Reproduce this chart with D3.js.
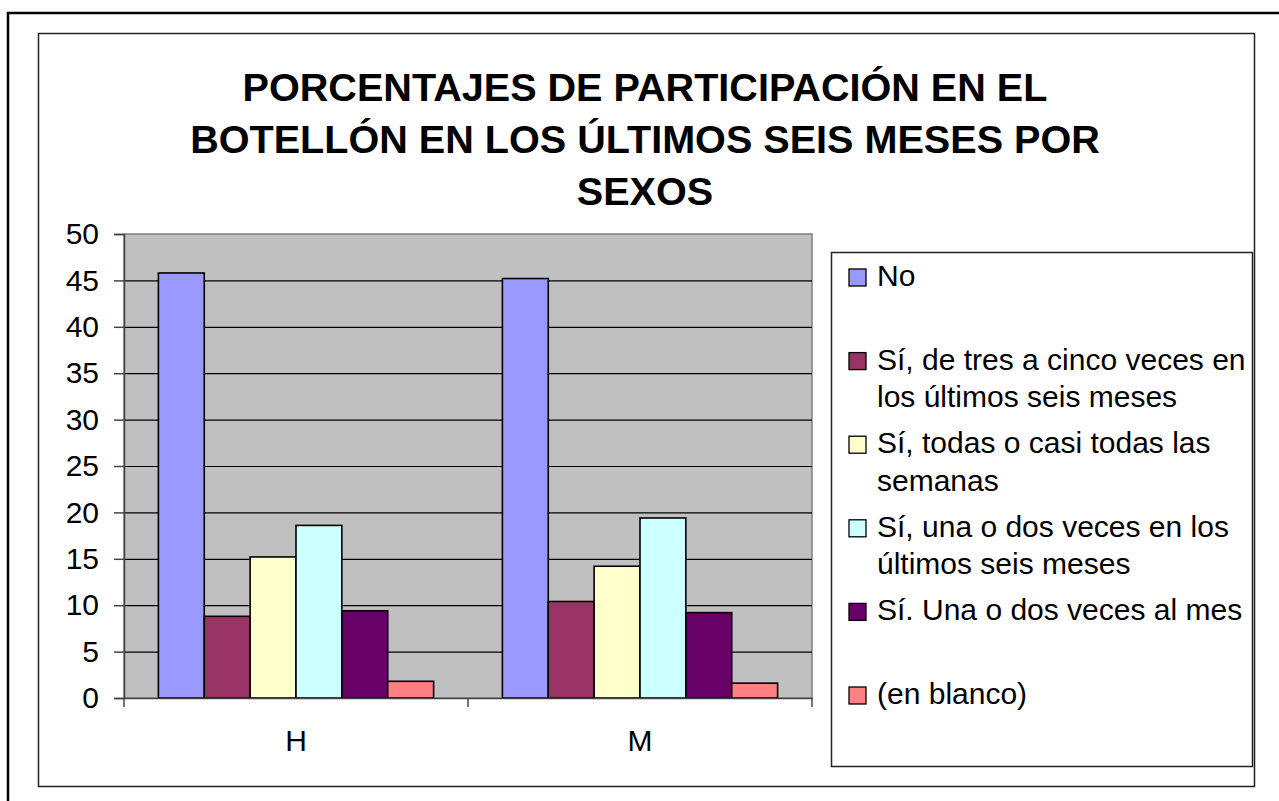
<!DOCTYPE html>
<html>
<head>
<meta charset="utf-8">
<script src="https://cdn.jsdelivr.net/npm/d3@7"></script>
<style>
  body { margin: 0; background: #fff; }
  svg { display: block; font-family: Arial, "Liberation Sans", sans-serif; }
</style>
</head>
<body>
<svg class="barchart" width="1279" height="801"></svg>
<script>
// data
let sexes = ["H", "M"];
let seriesNames = [
  "No",
  "Sí, de tres a cinco veces en los últimos seis meses",
  "Sí, todas o casi todas las semanas",
  "Sí, una o dos veces en los últimos seis meses",
  "Sí. Una o dos veces al mes",
  "(en blanco)"
];
let valuesH = [45.8, 8.8, 15.2, 18.6, 9.4, 1.8];
let valuesM = [45.2, 10.4, 14.2, 19.4, 9.2, 1.6];
let seriesColors = ["#9999FF", "#993366", "#FFFFCC", "#CCFFFF", "#660066", "#FF8080"];
let yTicks = [0, 5, 10, 15, 20, 25, 30, 35, 40, 45, 50];
let titleLines = [
  "PORCENTAJES DE PARTICIPACIÓN EN EL",
  "BOTELLÓN EN LOS ÚLTIMOS SEIS MESES POR",
  "SEXOS"
];

let svg = d3.select("body").select(".barchart");

// outer frame (only top/left visible) and chart area
svg.append("rect")
  .attr("x", 8).attr("y", 13)
  .attr("width", 1300).attr("height", 820)
  .attr("fill", "#fff")
  .attr("stroke", "#000")
  .attr("stroke-width", 2.5);

svg.append("rect")
  .attr("x", 38.5).attr("y", 33.5)
  .attr("width", 1216).attr("height", 753)
  .attr("fill", "#fff")
  .attr("stroke", "#222")
  .attr("stroke-width", 1.5);

// title
let title = svg.append("text")
  .attr("class", "title")
  .attr("text-anchor", "middle")
  .style("font-size", "39.6px")
  .style("font-weight", "bold");
title.selectAll("tspan")
  .data(titleLines)
  .enter().append("tspan")
  .attr("x", 645)
  .attr("y", (d, i) => 101 + i * 52)
  .text(d => d);

let plot = {left: 124, right: 812, top: 234, bottom: 698};

let yScale = d3.scaleLinear()
  .domain([0, 50])
  .range([plot.bottom, plot.top]);

let xScale = d3.scaleBand()
  .domain(sexes)
  .range([plot.left, plot.right])
  .paddingInner(0)
  .paddingOuter(0);

// gap width 150% -> 0.75 bar on each side
let seriesScale = d3.scaleBand()
  .domain(d3.range(seriesNames.length))
  .range([0, xScale.bandwidth()])
  .paddingInner(0)
  .paddingOuter(0.75);

// plot background
svg.append("rect")
  .attr("x", plot.left).attr("y", plot.top)
  .attr("width", plot.right - plot.left)
  .attr("height", plot.bottom - plot.top)
  .attr("fill", "#C0C0C0")
  .attr("stroke", "#808080")
  .attr("stroke-width", 1.5);

// gridlines
let gridlines = d3.axisLeft(yScale)
  .tickValues(yTicks.slice(1, -1))
  .tickFormat("")
  .tickSize(-(plot.right - plot.left));
let grid = svg.append("g")
  .attr("class", "grid")
  .attr("transform", translate(plot.left, 0))
  .call(gridlines);
grid.select(".domain").remove();
grid.selectAll("line").attr("stroke", "#000").attr("stroke-width", 1.2);

// bars
let rows = sexes.map((s, i) => ({sex: s, values: i === 0 ? valuesH : valuesM}));
let groups = svg.selectAll(".group")
  .data(rows)
  .enter().append("g")
  .attr("class", "group")
  .attr("transform", d => translate(xScale(d.sex), 0));

groups.selectAll(".bar")
  .data(d => d.values.map((v, j) => ({v: v, j: j})))
  .enter().append("rect")
  .attr("class", "bar")
  .attr("x", d => seriesScale(d.j))
  .attr("width", seriesScale.bandwidth())
  .attr("y", d => yScale(d.v))
  .attr("height", d => plot.bottom - yScale(d.v))
  .attr("fill", d => seriesColors[d.j])
  .attr("stroke", "#000")
  .attr("stroke-width", 1.6);

// y axis
let yAxis = d3.axisLeft(yScale)
  .tickValues(yTicks)
  .tickSize(10)
  .tickPadding(15);
let yGroup = svg.append("g")
  .attr("id", "y-axis")
  .attr("transform", translate(plot.left, 0))
  .call(yAxis);
yGroup.select(".domain").attr("stroke", "#444").attr("stroke-width", 1.5);
yGroup.selectAll("line").attr("stroke", "#444").attr("stroke-width", 1.5);
yGroup.selectAll("text")
  .attr("fill", "#000")
  .style("font-size", "30px")
  .style("font-family", "Arial, 'Liberation Sans', sans-serif");

// x axis (ticks on category boundaries)
let xAxis = d3.axisBottom(xScale).tickSize(0).tickPadding(32);
let xGroup = svg.append("g")
  .attr("id", "x-axis")
  .attr("transform", translate(0, plot.bottom))
  .call(xAxis);
xGroup.select(".domain").attr("stroke", "#444").attr("stroke-width", 1.5);
xGroup.selectAll("text")
  .attr("fill", "#000")
  .style("font-size", "30px")
  .style("font-family", "Arial, 'Liberation Sans', sans-serif");
xGroup.selectAll(".sep")
  .data([plot.left, xScale("M"), plot.right])
  .enter().append("line")
  .attr("class", "sep")
  .attr("x1", d => d).attr("x2", d => d)
  .attr("y1", 0).attr("y2", 9)
  .attr("stroke", "#444")
  .attr("stroke-width", 1.5);

// legend
let legend = svg.append("g").attr("class", "legend");
legend.append("rect")
  .attr("x", 831.5).attr("y", 252.5)
  .attr("width", 421).attr("height", 514)
  .attr("fill", "#fff")
  .attr("stroke", "#222")
  .attr("stroke-width", 1.5);

let items = legend.selectAll(".item")
  .data(seriesNames)
  .enter().append("g")
  .attr("class", "item")
  .attr("transform", (d, i) => translate(0, 286 + i * 83.6));

items.append("rect")
  .attr("x", 849).attr("y", -17)
  .attr("width", 17).attr("height", 17)
  .attr("fill", (d, i) => seriesColors[i])
  .attr("stroke", "#000")
  .attr("stroke-width", 1.3);

items.append("text")
  .attr("x", 877)
  .attr("y", 0)
  .style("font-size", "30px")
  .text(d => d)
  .each(function(d) { wrap(d3.select(this), 374); });

function wrap(text, maxWidth) {
  let words = text.text().split(" ");
  text.text(null);
  let line = [];
  let lineNo = 0;
  let tspan = text.append("tspan").attr("x", 877).attr("y", 0);
  words.forEach(function(w) {
    line.push(w);
    tspan.text(line.join(" "));
    if (tspan.node().getComputedTextLength() > maxWidth && line.length > 1) {
      line.pop();
      tspan.text(line.join(" "));
      line = [w];
      lineNo++;
      tspan = text.append("tspan").attr("x", 877).attr("y", lineNo * 37.4).text(w);
    }
  });
}

function translate(x, y) {
  return 'translate(' + x + ',' + y + ')';
}
</script>
</body>
</html>
